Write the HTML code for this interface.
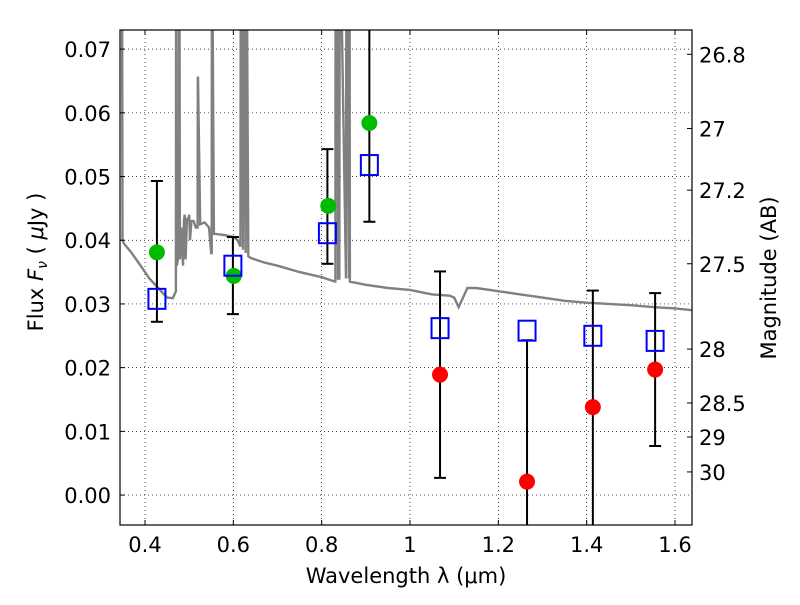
<!DOCTYPE html>
<html><head><meta charset="utf-8"><style>
body{margin:0;background:#fff}
svg text{font-family:"DejaVu Sans","Liberation Sans",sans-serif;fill:#000}
</style></head><body>
<svg id="c" width="800" height="600"></svg>
<script>
const xTicks=[0.4,0.6,0.8,1.0,1.2,1.4,1.6];
const xTickLabels=["0.4","0.6","0.8","1","1.2","1.4","1.6"];
const yTicks=[0,0.01,0.02,0.03,0.04,0.05,0.06,0.07];
const yTickLabels=["0.00","0.01","0.02","0.03","0.04","0.05","0.06","0.07"];
const magTicks=[26.8,27,27.2,27.5,28,28.5,29,30];
const magLabels=["26.8","27","27.2","27.5","28","28.5","29","30"];
const bandWave=[0.427,0.599,0.813,0.908,1.068,1.265,1.414,1.555];
const modelFlux=[0.0308,0.0360,0.0411,0.0518,0.0262,0.0258,0.0250,0.0242];
const errLow=[0.0272,0.0284,0.0363,0.0429,0.0027,-0.01,-0.01,0.0077];
const errHigh=[0.0493,0.0405,0.0543,0.08,0.0351,0.0243,0.0321,0.0317];
const obsWave=[0.427,0.601,0.815,0.908,1.068,1.265,1.414,1.555];
const obsFlux=[0.0381,0.0344,0.0454,0.0584,0.0189,0.0021,0.0138,0.0197];
const obsColor=["#00bb00","#00bb00","#00bb00","#00bb00","#ff0000","#ff0000","#ff0000","#ff0000"];
const specWave=[0.347,0.348,0.349,0.352,0.37,0.39,0.41,0.43,0.45,0.463,0.470,0.4705,0.471,0.472,0.477,0.4775,0.478,0.479,0.482,0.486,0.488,0.49,0.492,0.495,0.497,0.5,0.502,0.505,0.51,0.515,0.519,0.5195,0.52,0.525,0.535,0.545,0.55,0.551,0.5515,0.552,0.556,0.56,0.58,0.6,0.61,0.616,0.617,0.618,0.622,0.623,0.624,0.628,0.629,0.63,0.634,0.64,0.67,0.7,0.75,0.8,0.83,0.831,0.8315,0.836,0.837,0.84,0.841,0.842,0.855,0.856,0.857,0.862,0.863,0.864,0.9,0.95,1.0,1.05,1.09,1.1,1.11,1.12,1.13,1.15,1.2,1.25,1.3,1.35,1.4,1.45,1.5,1.55,1.6,1.64];
const specFlux=[0.09,0.09,0.040,0.0395,0.038,0.036,0.034,0.0325,0.031,0.0309,0.032,0.09,0.09,0.036,0.038,0.09,0.09,0.037,0.042,0.036,0.043,0.044,0.037,0.0435,0.043,0.044,0.04,0.043,0.043,0.042,0.042,0.0655,0.0655,0.0425,0.0428,0.042,0.038,0.038,0.09,0.09,0.041,0.041,0.0408,0.0405,0.040,0.039,0.09,0.09,0.0385,0.09,0.09,0.038,0.09,0.09,0.0375,0.0372,0.0365,0.036,0.035,0.0342,0.0335,0.0335,0.09,0.09,0.034,0.034,0.09,0.09,0.034,0.09,0.09,0.034,0.09,0.0335,0.033,0.0325,0.0322,0.0315,0.0313,0.031,0.0295,0.031,0.0325,0.0325,0.032,0.0315,0.031,0.0305,0.0302,0.030,0.0298,0.0295,0.0293,0.029];
const L=120,R=692,T=30,B=525;
const X0=0.3434,X1=1.6385,Y0=-0.0047,Y1=0.073;
const sx=v=>L+(v-X0)/(X1-X0)*(R-L);
const sy=v=>B-(v-Y0)/(Y1-Y0)*(B-T);
const svg=document.getElementById('c');
const NS='http://www.w3.org/2000/svg';
function mk(tag,attrs,parent){const e=document.createElementNS(NS,tag);for(const k in attrs)e.setAttribute(k,attrs[k]);(parent||svg).appendChild(e);return e;}
const defs=mk('defs',{});
const cp=mk('clipPath',{id:'pc'},defs);mk('rect',{x:L,y:T,width:R-L,height:B-T},cp);
const grid=mk('g',{stroke:'#000','stroke-width':0.7,'stroke-dasharray':'1,3'});


xTicks.forEach(v=>mk('line',{x1:sx(v),x2:sx(v),y1:T,y2:B},grid));
yTicks.forEach(v=>mk('line',{x1:L,x2:R,y1:sy(v),y2:sy(v)},grid));
const plot=mk('g',{'clip-path':'url(#pc)'});
let d='';specWave.forEach((w,i)=>{d+=(i?'L':'M')+sx(w).toFixed(1)+','+sy(specFlux[i]).toFixed(1);});
const sp=mk('path',{d:d,fill:'none',stroke:'#808080','stroke-width':2.4},plot);


bandWave.forEach((w,i)=>{
  const g=mk('g',{},plot);
  
  
  const x=sx(w);
  mk('line',{x1:x,x2:x,y1:sy(errLow[i]),y2:sy(errHigh[i]),stroke:'#000','stroke-width':2},g);
  mk('line',{x1:x-6,x2:x+6,y1:sy(errLow[i]),y2:sy(errLow[i]),stroke:'#000','stroke-width':2},g);
  mk('line',{x1:x-6,x2:x+6,y1:sy(errHigh[i]),y2:sy(errHigh[i]),stroke:'#000','stroke-width':2},g);
});
obsWave.forEach((w,i)=>{
  const c=mk('circle',{cx:sx(w),cy:sy(obsFlux[i]),r:8,fill:obsColor[i]},plot);
  
  
});
bandWave.forEach((w,i)=>{
  const r=mk('rect',{x:sx(w)-8.5,y:sy(modelFlux[i])-10,width:17,height:20,fill:'none',stroke:'#0000ff','stroke-width':2},plot);
  
  
});
const frame=mk('rect',{x:L,y:T,width:R-L,height:B-T,fill:'none',stroke:'#000','stroke-width':1.2});


const ax=mk('g',{});


xTicks.forEach((v,i)=>{const x=sx(v);mk('line',{x1:x,x2:x,y1:B,y2:B-5,stroke:'#000'},ax);mk('line',{x1:x,x2:x,y1:T,y2:T+5,stroke:'#000'},ax);
  const t=mk('text',{x:x,y:B+27,'text-anchor':'middle','font-size':21},ax);t.textContent=xTickLabels[i];});
yTicks.forEach((v,i)=>{const y=sy(v);mk('line',{x1:L,x2:L+5,y1:y,y2:y,stroke:'#000'},ax);
  const t=mk('text',{x:L-9,y:y+8,'text-anchor':'end','font-size':21},ax);t.textContent=yTickLabels[i];});
magTicks.forEach((m,i)=>{const y=sy(Math.pow(10,(23.9-m)/2.5));mk('line',{x1:R,x2:R-5,y1:y,y2:y,stroke:'#000'},ax);
  const t=mk('text',{x:R+7,y:y+8,'font-size':21},ax);t.textContent=magLabels[i];});
const xt=mk('text',{x:406,y:583,'text-anchor':'middle','font-size':21});xt.textContent='Wavelength  λ (μm)';

const yt=mk('text',{x:43,y:262,'text-anchor':'middle','font-size':21,transform:'rotate(-90 43 262)'});yt.innerHTML='Flux  <tspan font-style="italic">F</tspan><tspan font-style="italic" font-size="14" dy="4">ν</tspan><tspan dy="-4">  ( </tspan><tspan font-style="italic">μ</tspan>Jy )';

const rt=mk('text',{x:776,y:278,'text-anchor':'middle','font-size':21,transform:'rotate(-90 776 278)'});rt.textContent='Magnitude (AB)';

</script>
</body></html>
